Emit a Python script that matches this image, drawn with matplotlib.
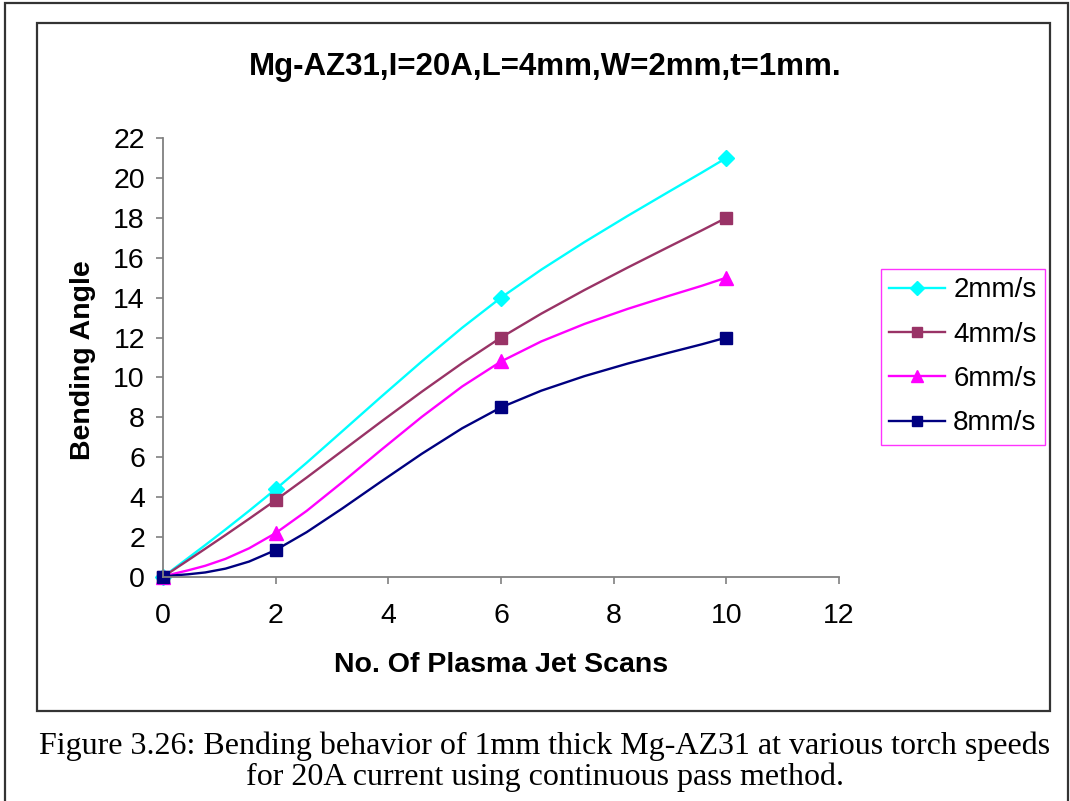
import numpy as np
import matplotlib
matplotlib.use("Agg")
import matplotlib.pyplot as plt
from matplotlib.patches import Rectangle
from matplotlib.lines import Line2D

scans = [0, 2, 6, 10]
series_names = ["2mm/s", "4mm/s", "6mm/s", "8mm/s"]
v2 = [0, 4.4, 14, 21]
v4 = [0, 3.85, 12, 18]
v6 = [0, 2.2, 10.8, 15]
v8 = [0, 1.35, 8.5, 12]
colors = ["#00FFFF", "#993366", "#FF00FF", "#000080"]
markers = ["D", "s", "^", "s"]
msizes = [8, 9, 10, 8]
xticks = [0, 2, 4, 6, 8, 10, 12]
yticks = list(range(0, 23, 2))


def smooth(xs, ys, n=7, k=6.0):
    # Bezier smoothing through the points (like Excel's smoothed line)
    P = np.column_stack([xs, ys]).astype(float)
    out = [P[0]]
    m = len(P)
    for i in range(m - 1):
        p0 = P[i - 1] if i > 0 else P[i]
        p1 = P[i]
        p2 = P[i + 1]
        p3 = P[i + 2] if i + 2 < m else P[i + 1]
        c1 = p1 + (p2 - p0) / k
        c2 = p2 - (p3 - p1) / k
        t = np.linspace(0, 1, n)[1:, None]
        b = ((1 - t) ** 3) * p1 + 3 * ((1 - t) ** 2) * t * c1 + 3 * (1 - t) * t ** 2 * c2 + t ** 3 * p2
        out.extend(b)
    out = np.array(out)
    return out[:, 0], out[:, 1]


W, H = 1070, 801
fig = plt.figure(figsize=(W / 100, H / 100), dpi=100)
plt.rcParams['font.family'] = ['Liberation Sans', 'DejaVu Sans']

# frames
fig.add_artist(Rectangle((5 / W, -0.01), (1068 - 5) / W, 1 - 3 / H + 0.01, transform=fig.transFigure,
                         fill=False, edgecolor="#333333", linewidth=1.6))
fig.add_artist(Rectangle((37 / W, 1 - 711 / H), (1050 - 37) / W, (711 - 23) / H, transform=fig.transFigure,
                         fill=False, edgecolor="#333333", linewidth=1.6))

ax = fig.add_axes([163 / W, 1 - 577 / H, (839 - 163) / W, (577 - 138) / H])
for vals, name, c, mk, ms in zip([v2, v4, v6, v8], series_names, colors, markers, msizes):
    sx, sy = smooth(scans, vals)
    ax.plot(sx, sy, color=c, linewidth=1.7, clip_on=False)
    ax.plot(scans, vals, linestyle="none", marker=mk, color=c, markersize=ms, clip_on=False)

ax.set_xlim(0, 12)
ax.set_ylim(0, 22)
ax.set_xticks(xticks)
ax.set_yticks(yticks)
for s in ["top", "right"]:
    ax.spines[s].set_visible(False)
for s in ["left", "bottom"]:
    ax.spines[s].set_color("#808080")
    ax.spines[s].set_linewidth(1.3)
ax.tick_params(axis="both", direction="out", length=5, width=1.2, color="#808080", labelsize=20.5)
ax.tick_params(axis="x", pad=14)
ax.tick_params(axis="y", pad=8)

fig.text(545 / W, 1 - 67 / H, "Mg-AZ31,I=20A,L=4mm,W=2mm,t=1mm.", ha="center", va="center",
         fontsize=22.5, fontweight="bold")
fig.text(83 / W, 1 - 360 / H, "Bending Angle", ha="center", va="center", rotation=90,
         fontsize=20.5, fontweight="bold")
fig.text(501 / W, 1 - 665 / H, "No. Of Plasma Jet Scans", ha="center", va="center",
         fontsize=20.5, fontweight="bold")

handles = [Line2D([0], [0], color=c, marker=mk, markersize=ms * 0.85, linewidth=1.7)
           for c, mk, ms in zip(colors, markers, msizes)]
leg = fig.legend(handles, series_names, loc="upper left",
                 bbox_to_anchor=(881 / W, 1 - 269 / H), fontsize=20, frameon=True, fancybox=False,
                 edgecolor="#FF00FF", handlelength=2.0, handletextpad=0.3, labelspacing=0.66,
                 borderpad=0.3, borderaxespad=0)
leg.get_frame().set_linewidth(1.0)

fig.text(545 / W, 1 - 746 / H, "Figure 3.26: Bending behavior of 1mm thick Mg-AZ31 at various torch speeds",
         ha="center", va="center", fontsize=23, family=["Liberation Serif", "DejaVu Serif"])
fig.text(545 / W, 1 - 777 / H, "for 20A current using continuous pass method.",
         ha="center", va="center", fontsize=23, family=["Liberation Serif", "DejaVu Serif"])

fig.savefig("out.png", dpi=100)
